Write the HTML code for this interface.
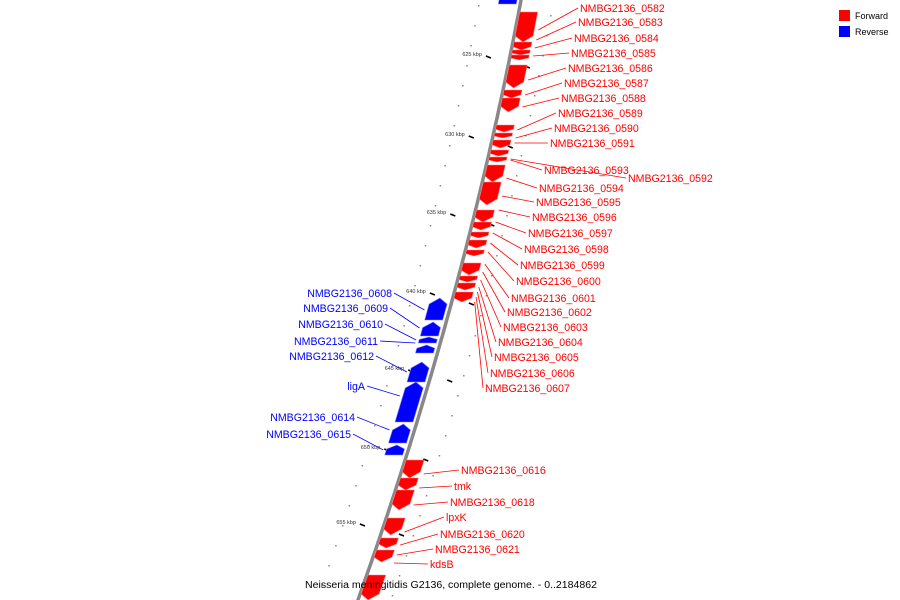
<!DOCTYPE html>
<html><head><meta charset="utf-8"><style>
html,body{margin:0;padding:0;background:#fff}
svg{display:block;font-family:"Liberation Sans","DejaVu Sans",sans-serif}
</style></head><body>
<svg id="map" width="900" height="600" viewBox="0 0 900 600">
<g id="g-ticks"></g>
<path id="backbone" fill="none" stroke="#888" stroke-width="3.5"/>
<g id="g-feat"></g>
<g id="g-lab"></g>
<g>
<rect x="839" y="10" width="11" height="11" fill="#f00"/>
<text x="855" y="19" font-size="9">Forward</text>
<rect x="839" y="26" width="11" height="11" fill="#00f"/>
<text x="855" y="35" font-size="9">Reverse</text>
</g>
<text x="305" y="588" font-size="10" textLength="292" lengthAdjust="spacingAndGlyphs">Neisseria meningitidis G2136, complete genome. - 0..2184862</text>
</svg>
<script>
const fwdStart=[12,42,50,55,65,90,98,125,133,140,150,157,165,182,210,222,232,240,250,263,276,283,292,460,478,490,518,538,550,575];
const fwdEnd=[42,50,55,60,88,98,112,132,138,148,156,162,182,205,222,230,238,248,256,275,282,290,302,478,490,510,535,548,562,600];
const revStart=[-6,298,322,337,345,362,382,424,445];
const revEnd=[4,320,336,343,353,382,422,443,455];
const redLabels=["NMBG2136_0582","NMBG2136_0583","NMBG2136_0584","NMBG2136_0585","NMBG2136_0586","NMBG2136_0587","NMBG2136_0588","NMBG2136_0589","NMBG2136_0590","NMBG2136_0591","NMBG2136_0593","NMBG2136_0592","NMBG2136_0594","NMBG2136_0595","NMBG2136_0596","NMBG2136_0597","NMBG2136_0598","NMBG2136_0599","NMBG2136_0600","NMBG2136_0601","NMBG2136_0602","NMBG2136_0603","NMBG2136_0604","NMBG2136_0605","NMBG2136_0606","NMBG2136_0607","NMBG2136_0616","tmk","NMBG2136_0618","lpxK","NMBG2136_0620","NMBG2136_0621","kdsB"];
const redLabX=[580,578,574,571,568,564,561,558,554,550,544,628,539,536,532,528,524,520,516,511,507,503,498,494,490,485,461,454,450,446,440,435,430];
const redLabY=[8,22,38,53,68,83,98,113,128,143,170,178,188,202,217,233,249,265,281,298,312,327,342,357,373,388,470,486,502,517,534,549,564];
const redTarget=[30,40,48,56,80,95,107,130,138,143,160,159,178,196,210,222,233,243,252,264,272,280,287,292,297,302,474,488,505,532,545,555,563];
const blueLabels=["NMBG2136_0608","NMBG2136_0609","NMBG2136_0610","NMBG2136_0611","NMBG2136_0612","ligA","NMBG2136_0614","NMBG2136_0615"];
const blueLabX=[392,388,383,378,374,365,355,351];
const blueLabY=[293,308,324,341,356,386,417,434];
const blueTarget=[310,328,340,343,372,396,430,450];
const kbp=[625,630,635,640,645,650,655];
const kbpY=[57,137,215,294,371,450,525];

const NS="http://www.w3.org/2000/svg";
function bx(y){return 521-0.1867*y-0.0001417*y*y;}
function mk(tag,attrs,parent){const e=document.createElementNS(NS,tag);for(const k in attrs)e.setAttribute(k,attrs[k]);parent.appendChild(e);return e;}
let d="M"+bx(-5)+",-5";for(let y=0;y<=605;y+=5)d+=" L"+bx(y).toFixed(1)+","+y;
document.getElementById('backbone').setAttribute('d',d);
const gT=document.getElementById('g-ticks'),gF=document.getElementById('g-feat'),gL=document.getElementById('g-lab');
for(let y=5;y<600;y+=20){
 const a=mk('rect',{x:bx(y)-42,y:y,width:1.5,height:1.5,fill:'#888'},gT);
 
 
 const b=mk('rect',{x:bx(y+10)+32,y:y+10,width:1.5,height:1.5,fill:'#888'},gT);
 
 
}
kbp.forEach((k,i)=>{const y=kbpY[i];const x=bx(y);
 const t=mk('line',{x1:x-24,y1:y-1,x2:x-19,y2:y+1,stroke:'#000','stroke-width':1.5},gT);
 
 
 const t2=mk('line',{x1:x+15,y1:y+9,x2:x+20,y2:y+11,stroke:'#000','stroke-width':1.5},gT);
 
 
 const l=mk('text',{x:x-28,y:y-1,'font-size':5.5,'text-anchor':'end',fill:'#333'},gT);
 
 
 l.textContent=k+" kbp";});
function feat(s,e,o1,o2,col,light,fwd){
 const h=Math.min(6,(e-s)*0.4);
 let pts;
 if(fwd){pts=[[bx(s)+o1,s],[bx(s)+o2,s],[bx(e-h)+o2,e-h],[bx(e)+(o1+o2)/2,e],[bx(e-h)+o1,e-h]];}
 else{pts=[[bx(s)+(o1+o2)/2,s],[bx(s+h)+o2,s+h],[bx(e)+o2,e],[bx(e)+o1,e],[bx(s+h)+o1,s+h]];}
 const p=mk('polygon',{points:pts.map(q=>q[0].toFixed(1)+","+q[1]).join(" "),fill:col,stroke:light,'stroke-width':0.6},gF);
 
 
}
fwdStart.forEach((s,i)=>feat(s,fwdEnd[i],1,19,'#f00','#f88',true));
revStart.forEach((s,i)=>feat(s,revEnd[i],-22,-4,'#00f','#88f',false));
redLabels.forEach((n,i)=>{
 const ty=redTarget[i],y=redLabY[i];
 const ln=mk('line',{x1:redLabX[i]-2,y1:y,x2:bx(ty)+23,y2:ty,stroke:'#f00','stroke-width':0.8},gL);
 
 
 const t=mk('text',{x:redLabX[i],y:y+4,'font-size':10.6,fill:'#f00'},gL);
 
 
 t.textContent=n;});
blueLabels.forEach((n,i)=>{
 const ty=blueTarget[i],y=blueLabY[i];
 const ln=mk('line',{x1:blueLabX[i]+2,y1:y,x2:bx(ty)-25,y2:ty,stroke:'#00f','stroke-width':0.8},gL);
 
 
 const t=mk('text',{x:blueLabX[i],y:y+4,'font-size':10.6,fill:'#00f','text-anchor':'end'},gL);
 
 
 t.textContent=n;});
</script>
</body></html>
